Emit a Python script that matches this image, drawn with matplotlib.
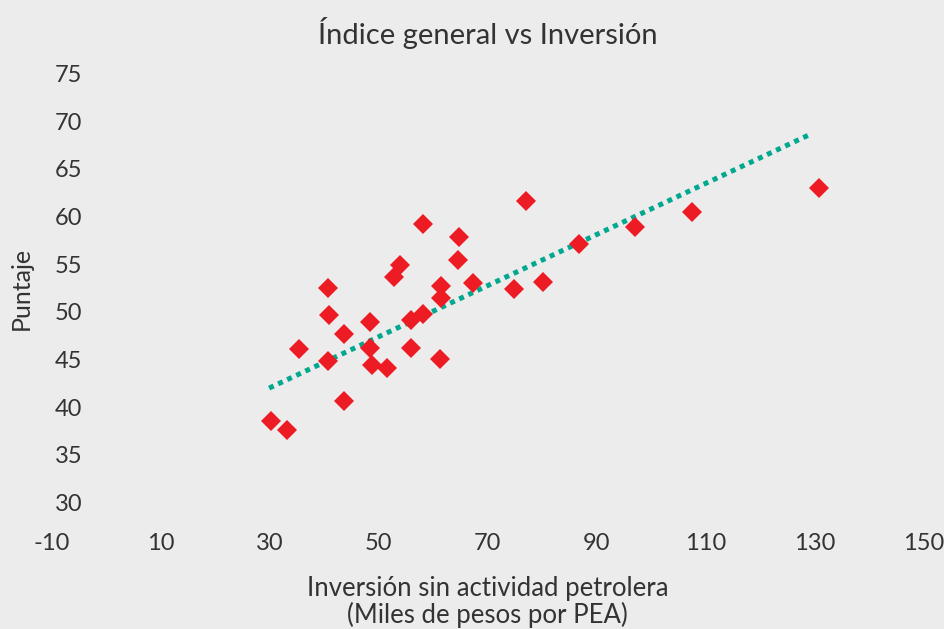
import matplotlib
matplotlib.use("Agg")
import matplotlib.pyplot as plt

# datos
inversion = [30.2, 33.2, 35.3, 40.7, 40.9, 40.7, 43.6, 43.7, 48.5, 48.4, 48.8,
             51.5, 52.8, 54.0, 55.9, 58.1, 55.9, 58.1, 61.4, 61.4, 61.3, 64.8,
             64.6, 67.3, 77.0, 74.8, 80.2, 86.8, 97.0, 107.5, 130.9]
puntaje = [38.5, 37.6, 46.1, 52.5, 49.7, 44.8, 47.7, 40.6, 48.9, 46.2, 44.4,
           44.1, 53.7, 54.9, 49.1, 49.8, 46.2, 59.2, 52.7, 51.5, 45.1, 57.9,
           55.4, 53.0, 61.6, 52.4, 53.1, 57.1, 58.9, 60.5, 63.0]

# linea de tendencia (extremos)
tendencia_x = [29.9, 129.5]
tendencia_y = [42.0, 68.7]

xticks = [-10, 10, 30, 50, 70, 90, 110, 130, 150]
yticks = [30, 35, 40, 45, 50, 55, 60, 65, 70, 75]

bg = '#ececec'
txt = '#333333'

plt.rcParams['font.family'] = ['Lato', 'DejaVu Sans']
plt.rcParams['axes.unicode_minus'] = False

fig = plt.figure(figsize=(9.44, 6.29), dpi=100, facecolor=bg)
ax = fig.add_axes([0.0548, 0.2011, 0.9235, 0.6820], facecolor=bg)

ax.plot(tendencia_x, tendencia_y, color='#00a88f', lw=3.6, linestyle=(0, (1, 1)),
        dash_capstyle='butt', zorder=2)

ax.plot(inversion, puntaje, 'D', color='#ed1c24', markersize=10.5,
        markeredgewidth=0, zorder=3)

ax.set_xlim(-10, 150)
ax.set_ylim(30, 75)
ax.set_xticks(xticks)
ax.set_yticks(yticks)
ax.tick_params(length=0, labelsize=17, labelcolor=txt)
ax.tick_params(axis='x', pad=22)
ax.tick_params(axis='y', pad=-22)
for s in ax.spines.values():
    s.set_visible(False)

ax.set_title('Índice general vs Inversión', fontsize=21, color=txt, pad=21)
ax.set_xlabel('Inversión sin actividad petrolera\n(Miles de pesos por PEA)',
              fontsize=18.5, color=txt, labelpad=16, linespacing=1.05)
ax.set_ylabel('Puntaje', fontsize=18, color=txt)
ax.yaxis.set_label_coords(-0.0215, 0.5)

fig.savefig('out.png', dpi=100, facecolor=bg)
